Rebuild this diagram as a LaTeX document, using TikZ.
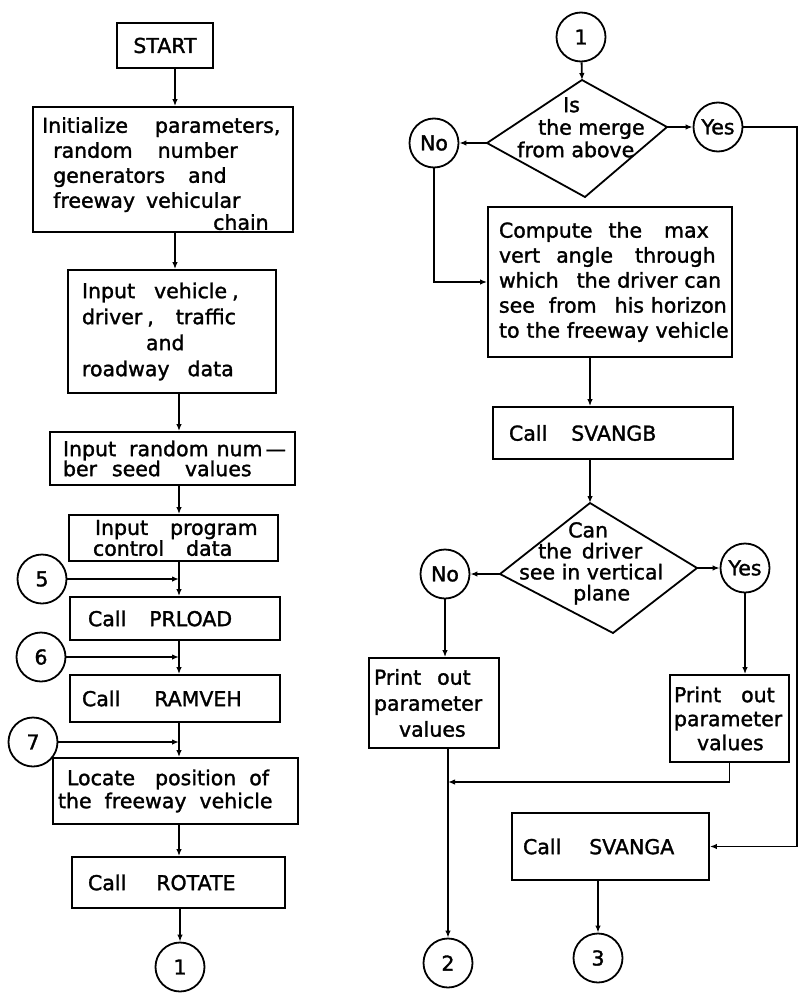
\documentclass[tikz,border=0pt]{standalone}
\usepackage{fontspec}
\setmainfont{DejaVu Sans}[UprightFeatures={FakeBold=1.5}]
\usetikzlibrary{arrows.meta}
\newcommand\fsz[1]{\fontsize{20.5}{#1}\selectfont}
\begin{document}
\begin{tikzpicture}[x=1pt,y=-1pt,
  lw/.style={line width=1.8pt},
  box/.style={draw, lw, inner sep=0pt, align=left, font=\fsz{25}},
  conn/.style={draw, circle, lw, minimum size=49pt, inner sep=0pt, font=\fsz{24}},
  arr/.style={lw, -{Latex[length=7pt,width=5.5pt]}},
  dtext/.style={inner sep=0pt, align=left, anchor=north west},
]
\useasboundingbox (0,0) rectangle (800,993);

% ---------- left column ----------
\node[box, align=center, minimum width=96pt, minimum height=45pt] (start) at (165,45.5) {START};

\node[box, minimum width=260pt, minimum height=125pt] (init) at (163,169.5) {};
\node[dtext, font=\fsz{25}] (initt) at (42,117)
 {\mbox{Initialize\hspace{27pt}parameters,}\\
  \mbox{\hspace{11pt}random\hspace{25pt}number}\\
  \mbox{\hspace{11pt}generators\hspace{23pt}and}\\
  \mbox{\hspace{11pt}freeway\hspace{11pt}vehicular}\\[-3pt]
  \mbox{\hspace{171pt}chain}};

\node[box, font=\fsz{26}, minimum width=208pt, minimum height=123pt, text width=180pt] (inveh) at (172,331.5)
 {\mbox{Input\hspace{19pt}vehicle\hspace{5pt},}\\
  \mbox{driver\hspace{5pt},\hspace{22pt}traffic}\\
  \mbox{\hspace{64pt}and}\\
  \mbox{roadway\hspace{18pt}data}};

\node[box, font=\fsz{20}, minimum width=245pt, minimum height=53pt, text width=219pt] (inrand) at (172.5,458.5)
 {\mbox{Input\hspace{13pt}random\hspace{8pt}num\hspace{3pt}---}\\
  \mbox{ber\hspace{15pt}seed\hspace{24pt}values}};

\node[box, font=\fsz{19}, minimum width=209pt, minimum height=46pt, text width=161pt] (inprog) at (173.5,538)
 {\mbox{\hspace{2pt}Input\hspace{22pt}program}\\
  \mbox{control\hspace{22pt}data}};

\node[box, minimum width=210pt, minimum height=43pt, text width=174pt] (prload) at (175,618.5)
 {\mbox{Call\hspace{23pt}PRLOAD}};

\node[box, minimum width=210pt, minimum height=47pt, text width=186pt] (ramveh) at (175,698.5)
 {\mbox{Call\hspace{34pt}RAMVEH}};

\node[box, font=\fsz{23}, minimum width=245pt, minimum height=66pt, text width=235pt] (locate) at (175.5,791)
 {\mbox{\hspace{9pt}Locate\hspace{20pt}position\hspace{13pt}of}\\
  \mbox{the\hspace{13pt}freeway\hspace{13pt}vehicle}};

\node[box, minimum width=213pt, minimum height=51pt, text width=181pt] (rotate) at (178.5,882.5)
 {\mbox{Call\hspace{30pt}ROTATE}};

\node[conn] (c5) at (42,579) {5};
\node[conn] (c6) at (41,657) {6};
\node[conn] (c7) at (33,742) {7};
\node[conn] (c1b) at (180,967) {1};

\coordinate (sa) at (175,0);
\coordinate (sb) at (179,0);
\coordinate (j5) at (179,579);
\coordinate (j6) at (179,657);
\coordinate (j7) at (179,742);

\draw[arr] (start.south -| sa) -- (init.north -| sa);
\draw[arr] (init.south -| sa) -- (inveh.north -| sa);
\draw[arr] (inveh.south -| sb) -- (inrand.north -| sb);
\draw[arr] (inrand.south -| sb) -- (inprog.north -| sb);
\draw[arr] (inprog.south -| sb) -- (prload.north -| sb);
\draw[arr] (prload.south -| sb) -- (ramveh.north -| sb);
\draw[arr] (ramveh.south -| sb) -- (locate.north -| sb);
\draw[arr] (locate.south -| sb) -- (rotate.north -| sb);
\draw[arr] (rotate.south -| c1b) -- (c1b);
\draw[arr] (c5) -- (j5);
\draw[arr] (c6) -- (j6);
\draw[arr] (c7) -- (j7);

% ---------- right column ----------
\node[conn] (c1t) at (581,37) {1};

\coordinate (d1n) at (582,80);
\coordinate (d1e) at (667,127);
\coordinate (d1s) at (585,197);
\coordinate (d1w) at (487,143);
\draw[lw, line join=miter] (d1n) -- (d1e) -- (d1s) -- (d1w) -- cycle;
\node[dtext, font=\fsz{22.5}] (d1t) at (517,97)
 {\mbox{\hspace{46pt}Is}\\ \mbox{\hspace{21pt}the merge}\\ \mbox{from above}};

\node[conn] (no1) at (434,143) {No};
\node[conn] (yes1) at (718,127) {Yes};

\node[box, minimum width=244pt, minimum height=150pt, text width=222pt] (comp) at (610,282)
 {\mbox{Compute\hspace{16pt}the\hspace{22pt}max}\\
  \mbox{vert\hspace{16pt}angle\hspace{22pt}through}\\
  \mbox{which\hspace{18pt}the driver can}\\
  \mbox{see\hspace{14pt}from\hspace{18pt}his horizon}\\
  \mbox{to the freeway vehicle}};

\node[box, minimum width=240pt, minimum height=52pt, text width=208pt] (svangb) at (613,433)
 {\mbox{Call\hspace{24pt}SVANGB}};

\coordinate (d2n) at (590,503);
\coordinate (d2e) at (697,568);
\coordinate (d2s) at (613,633);
\coordinate (d2w) at (500,574);
\draw[lw, line join=miter] (d2n) -- (d2e) -- (d2s) -- (d2w) -- cycle;
\node[dtext, font=\fsz{21}] (d2t) at (519,522)
 {\mbox{\hspace{49pt}Can}\\ \mbox{\hspace{19pt}the\hspace{10pt}driver}\\
  \mbox{see in vertical}\\ \mbox{\hspace{54pt}plane}};

\node[conn] (no2) at (445,574) {No};
\node[conn] (yes2) at (745,568) {Yes};

\node[box, font=\fsz{26}, minimum width=130pt, minimum height=90pt, text width=120pt] (print1) at (434,703)
 {\mbox{Print\hspace{16pt}out}\\ \mbox{parameter}\\ \mbox{\hspace{25pt}values}};

\node[box, font=\fsz{24}, minimum width=119pt, minimum height=87pt, text width=111pt] (print2) at (729.5,718.5)
 {\mbox{Print\hspace{20pt}out}\\ \mbox{parameter}\\ \mbox{\hspace{23pt}values}};

\node[box, minimum width=197pt, minimum height=67pt, text width=175pt] (svanga) at (610.5,846.5)
 {\mbox{Call\hspace{28pt}SVANGA}};

\node[conn] (c2) at (448,963) {2};
\node[conn] (c3) at (598,958) {3};

\coordinate (sr) at (590,0);
\coordinate (rx) at (797,500);
\coordinate (jm) at (448,782);

\draw[arr] (c1t) -- (d1n);
\draw[arr] (d1w) -- (no1);
\draw[arr] (d1e) -- (yes1);
\draw[arr] (no1) |- (comp);
\draw[arr] (yes1) -| (rx) |- (svanga);
\draw[arr] (comp.south -| sr) -- (svangb.north -| sr);
\draw[arr] (svangb.south -| sr) -- (d2n);
\draw[arr] (d2w) -- (no2);
\draw[arr] (d2e) -- (yes2);
\draw[arr] (no2) -- (print1.north -| no2);
\draw[arr] (yes2) -- (print2.north -| yes2);
\draw[arr] (print2.south) |- (jm);
\draw[arr] (print1.south -| c2) -- (c2);
\draw[arr] (svanga.south -| c3) -- (c3);
\end{tikzpicture}
\end{document}
